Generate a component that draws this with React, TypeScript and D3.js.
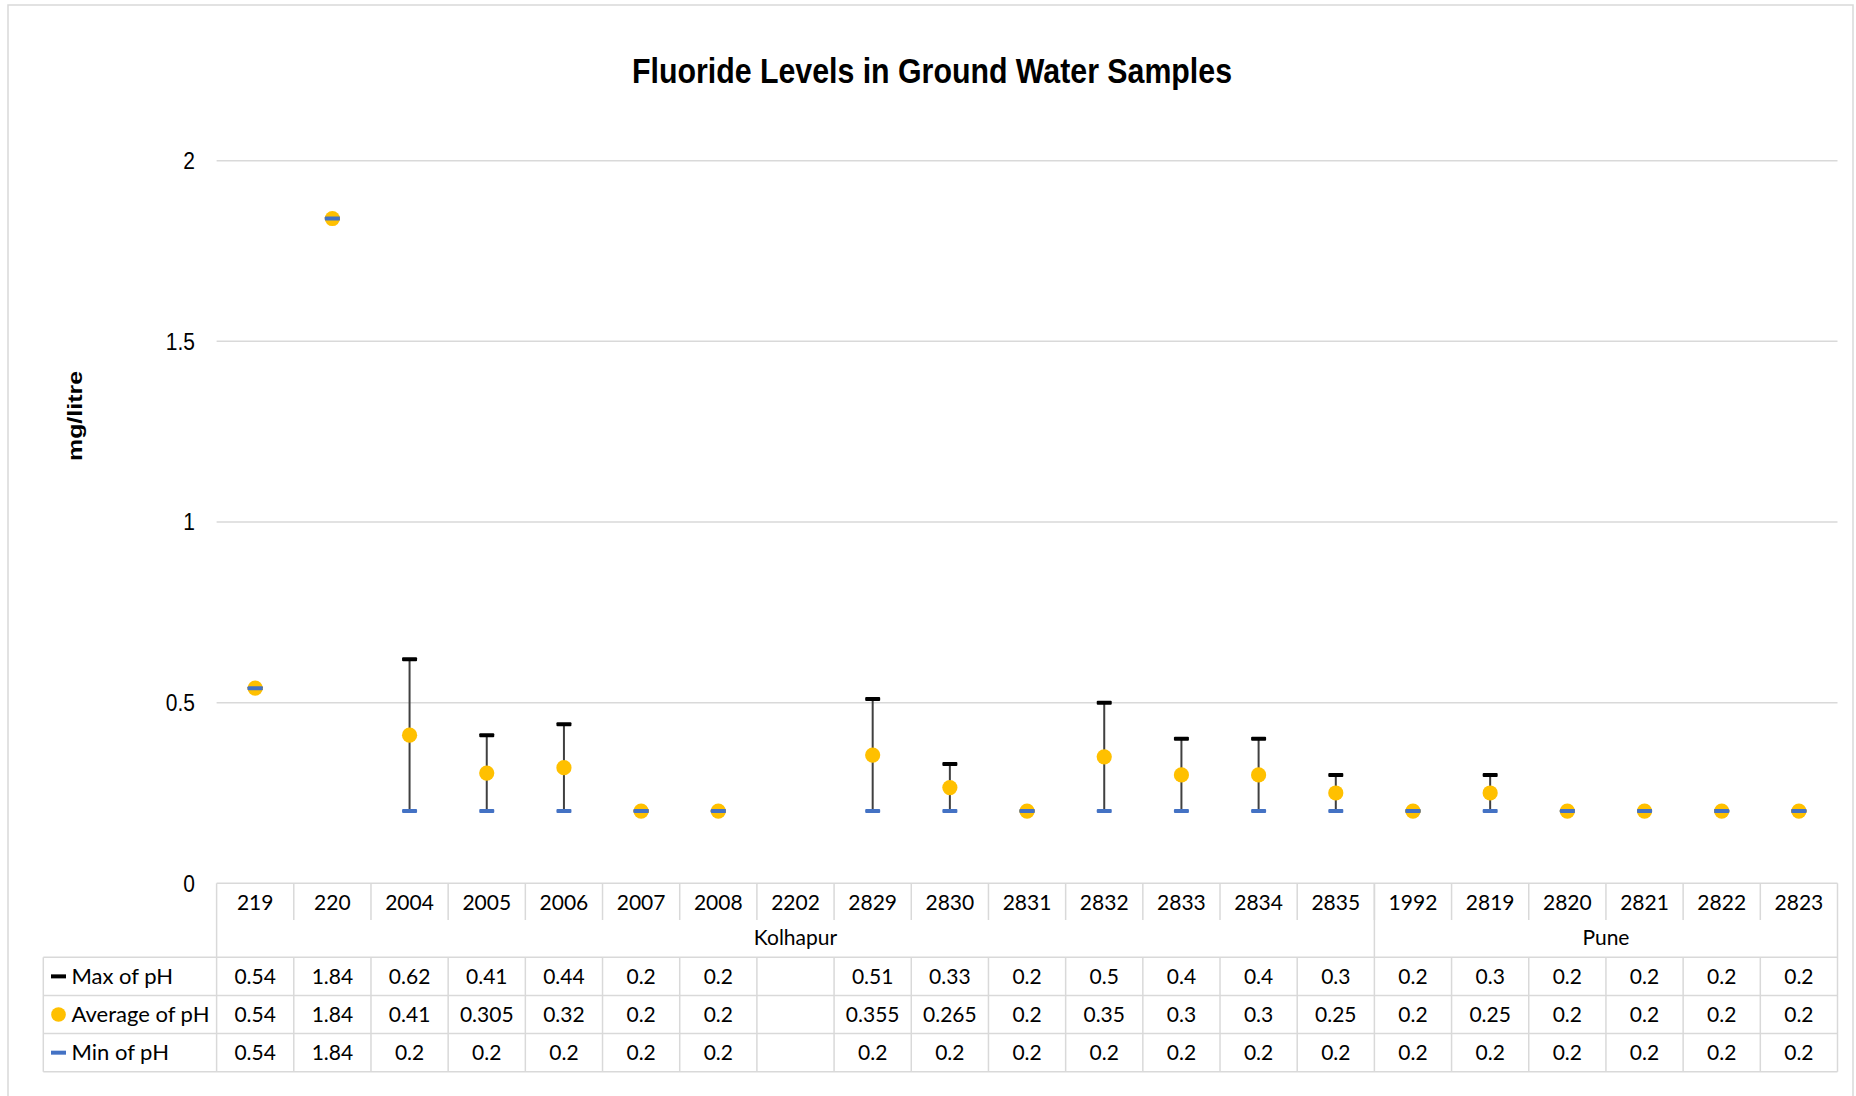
import React from 'react';
import * as d3 from 'd3';

const KOLHAPUR_SAMPLES = ['219', '220', '2004', '2005', '2006', '2007', '2008', '2202', '2829', '2830', '2831', '2832', '2833', '2834', '2835'];
const PUNE_SAMPLES = ['1992', '2819', '2820', '2821', '2822', '2823'];
const REGION_NAMES = ['Kolhapur', 'Pune'];

const MAX_PH: (number | null)[] = [0.54, 1.84, 0.62, 0.41, 0.44, 0.2, 0.2, null, 0.51, 0.33, 0.2, 0.5, 0.4, 0.4, 0.3, 0.2, 0.3, 0.2, 0.2, 0.2, 0.2];
const AVG_PH: (number | null)[] = [0.54, 1.84, 0.41, 0.305, 0.32, 0.2, 0.2, null, 0.355, 0.265, 0.2, 0.35, 0.3, 0.3, 0.25, 0.2, 0.25, 0.2, 0.2, 0.2, 0.2];
const MIN_PH: (number | null)[] = [0.54, 1.84, 0.2, 0.2, 0.2, 0.2, 0.2, null, 0.2, 0.2, 0.2, 0.2, 0.2, 0.2, 0.2, 0.2, 0.2, 0.2, 0.2, 0.2, 0.2];

const SERIES_NAMES = ['Max of pH', 'Average of pH', 'Min of pH'];
const Y_TICKS = [0, 0.5, 1, 1.5, 2];

const TITLE = 'Fluoride Levels in Ground Water Samples';
const Y_TITLE = 'mg/litre';

const GRID = '#d9d9d9';
const YELLOW = '#FFC000';
const BLUE = '#4472C4';
const DARK = '#404040';
const TABLE_FONT = 'Lato, "Open Sans", sans-serif';
const AXIS_FONT = '"Liberation Sans", Arial, sans-serif';

export default function App() {
  const W = 1856;
  const H = 1096;
  const plotLeft = 216.6;
  const plotRight = 1837.5;
  const yTop = 160.7;
  const yBottom = 883.3;

  const categories = [...KOLHAPUR_SAMPLES, ...PUNE_SAMPLES];
  const regionCounts = [KOLHAPUR_SAMPLES.length, PUNE_SAMPLES.length];

  const x = d3.scaleBand<string>().domain(categories).range([plotLeft, plotRight]).padding(0);
  const y = d3.scaleLinear().domain([0, 2]).range([yBottom, yTop]);
  const bw = x.bandwidth();
  const cx = (c: string) => (x(c) as number) + bw / 2;

  // table geometry
  const headerBottom = 920;
  const groupBottom = 957.3;
  const rowH = 38.15;
  const tableBottom = groupBottom + rowH * 3;
  const legendLeft = 43.3;
  const seriesValues = [MAX_PH, AVG_PH, MIN_PH];

  const regionBounds: [number, number][] = [];
  let acc = 0;
  regionCounts.forEach((n) => {
    const a = x(categories[acc]) as number;
    const b = (x(categories[acc + n - 1]) as number) + bw;
    regionBounds.push([a, b]);
    acc += n;
  });

  const dashW = 15;
  const dashH = 4;
  const r = 7.6;
  const tfs = 21;

  return (
    <svg width={W} height={H} style={{ position: 'absolute', left: 0, top: 0, background: '#fff' }}>
      <rect x={0} y={0} width={W} height={H} fill="#fff" />
      {/* chart border */}
      <rect x={8} y={5} width={1845} height={H + 10} fill="none" stroke={GRID} strokeWidth={1.5} />

      {/* title */}
      <text
        x={932}
        y={83.3}
        textAnchor="middle"
        fontFamily={AXIS_FONT}
        fontWeight="bold"
        fontSize={35}
        textLength={600}
        lengthAdjust="spacingAndGlyphs"
        fill="#000"
      >
        {TITLE}
      </text>

      {/* y axis title */}
      <text
        transform={`translate(82,416) rotate(-90)`}
        textAnchor="middle"
        fontFamily={AXIS_FONT}
        fontWeight="bold"
        fontSize={20}
        textLength={90}
        lengthAdjust="spacingAndGlyphs"
        fill="#000"
      >
        {Y_TITLE}
      </text>

      {/* gridlines and tick labels */}
      {Y_TICKS.map((t) => (
        <g key={t}>
          {t > 0 && <line x1={plotLeft} x2={plotRight} y1={y(t)} y2={y(t)} stroke={GRID} strokeWidth={1.5} />}
          <text
            transform={`translate(195,${y(t) + 8.3}) scale(1,1.12)`}
            textAnchor="end"
            fontFamily={AXIS_FONT}
            fontSize={21}
            fill="#000"
          >
            {String(t)}
          </text>
        </g>
      ))}

      {/* high-low lines */}
      {categories.map((c, i) => {
        const hi = MAX_PH[i];
        const lo = MIN_PH[i];
        if (hi == null || lo == null || hi === lo) return null;
        return <line key={'hl' + c} x1={cx(c)} x2={cx(c)} y1={y(hi)} y2={y(lo)} stroke={DARK} strokeWidth={2} />;
      })}

      {/* max markers */}
      {categories.map((c, i) => {
        const v = MAX_PH[i];
        if (v == null) return null;
        return <rect key={'mx' + c} x={cx(c) - dashW / 2} y={y(v) - dashH / 2} width={dashW} height={dashH} rx={1} fill="#000" />;
      })}
      {/* average markers */}
      {categories.map((c, i) => {
        const v = AVG_PH[i];
        if (v == null) return null;
        return <circle key={'av' + c} cx={cx(c)} cy={y(v)} r={r} fill={YELLOW} />;
      })}
      {/* min markers */}
      {categories.map((c, i) => {
        const v = MIN_PH[i];
        if (v == null) return null;
        return <rect key={'mn' + c} x={cx(c) - dashW / 2} y={y(v) - dashH / 2} width={dashW} height={dashH} rx={1} fill={BLUE} />;
      })}

      {/* data table lines */}
      <g stroke={GRID} strokeWidth={1.5}>
        <line x1={plotLeft} x2={plotRight} y1={yBottom} y2={yBottom} />
        <line x1={plotLeft} x2={plotLeft} y1={yBottom} y2={tableBottom} />
        <line x1={plotRight} x2={plotRight} y1={yBottom} y2={tableBottom} />
        {categories.slice(1).map((c) => (
          <line key={'hv' + c} x1={x(c) as number} x2={x(c) as number} y1={yBottom} y2={headerBottom} />
        ))}
        {regionBounds.slice(1).map(([a], i) => (
          <line key={'rb' + i} x1={a} x2={a} y1={yBottom} y2={groupBottom} />
        ))}
        {[0, 1, 2, 3].map((k) => (
          <line key={'rh' + k} x1={legendLeft} x2={plotRight} y1={groupBottom + k * rowH} y2={groupBottom + k * rowH} />
        ))}
        <line x1={legendLeft} x2={legendLeft} y1={groupBottom} y2={tableBottom} />
        {categories.slice(1).map((c) => (
          <line key={'dv' + c} x1={x(c) as number} x2={x(c) as number} y1={groupBottom} y2={tableBottom} />
        ))}
      </g>

      {/* category labels */}
      {categories.map((c) => (
        <text key={'cl' + c} x={cx(c)} y={909.5} textAnchor="middle" fontFamily={TABLE_FONT} fontSize={tfs} fill="#000">
          {c}
        </text>
      ))}
      {/* region labels */}
      {REGION_NAMES.map((n, i) => (
        <text
          key={'rg' + n}
          x={(regionBounds[i][0] + regionBounds[i][1]) / 2}
          y={945}
          textAnchor="middle"
          fontFamily={TABLE_FONT}
          fontSize={tfs}
          fill="#000"
        >
          {n}
        </text>
      ))}

      {/* series rows */}
      {SERIES_NAMES.map((name, k) => {
        const rowMid = groupBottom + rowH * (k + 0.5);
        const base = rowMid + 7.5;
        return (
          <g key={'row' + k}>
            {k === 0 && <rect x={51} y={rowMid - 2} width={15} height={4} fill="#000" />}
            {k === 1 && <circle cx={58.5} cy={rowMid} r={7.3} fill={YELLOW} />}
            {k === 2 && <rect x={51} y={rowMid - 2} width={15} height={4} fill={BLUE} />}
            <text x={71.5} y={base} fontFamily={TABLE_FONT} fontSize={tfs + 1} fill="#000">
              {name}
            </text>
            {categories.map((c, i) => {
              const v = seriesValues[k][i];
              if (v == null) return null;
              return (
                <text key={c} x={cx(c)} y={base} textAnchor="middle" fontFamily={TABLE_FONT} fontSize={tfs} fill="#000">
                  {String(v)}
                </text>
              );
            })}
          </g>
        );
      })}
    </svg>
  );
}
